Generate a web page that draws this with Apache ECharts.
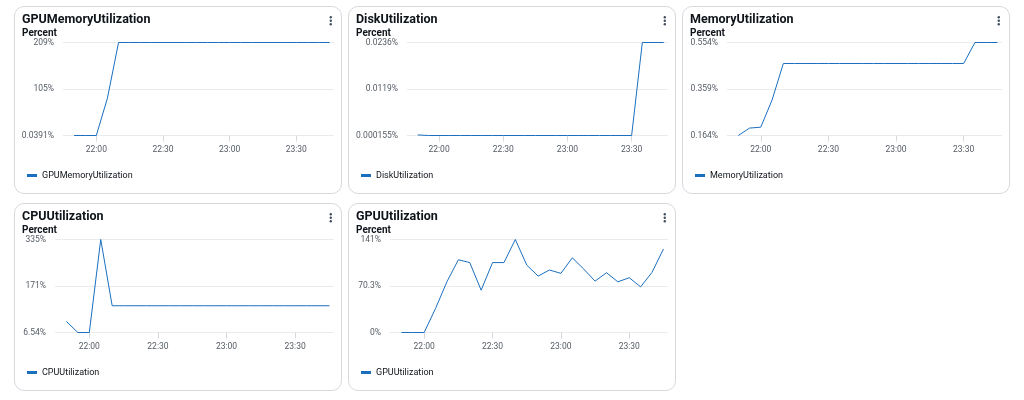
<!DOCTYPE html>
<html>
<head>
<meta charset="utf-8">
<script src="https://cdn.jsdelivr.net/npm/echarts@6.0.0/dist/echarts.min.js"></script>
<style>
  html, body { margin: 0; padding: 0; background: #fff; }
  body { width: 1024px; height: 400px; position: relative; overflow: hidden; }
  .card {
    position: absolute; width: 328px; height: 188px; box-sizing: border-box;
    border: 1px solid #d5d9de; border-radius: 10px; background: #fff;
  }
  .card .chart { position: absolute; left: -1px; top: -1px; width: 328px; height: 188px; }
</style>
</head>
<body>
<div class="card" style="left:14px;top:6px"><div class="chart" id="gpuMem"></div></div>
<div class="card" style="left:348px;top:6px"><div class="chart" id="disk"></div></div>
<div class="card" style="left:682px;top:6px"><div class="chart" id="mem"></div></div>
<div class="card" style="left:14px;top:203px"><div class="chart" id="cpu"></div></div>
<div class="card" style="left:348px;top:203px"><div class="chart" id="gpu"></div></div>
<script>
// 5 minute samples, 21:50 -> 23:45
const times = ['21:50', '21:55', '22:00', '22:05', '22:10', '22:15', '22:20', '22:25',
  '22:30', '22:35', '22:40', '22:45', '22:50', '22:55', '23:00', '23:05',
  '23:10', '23:15', '23:20', '23:25', '23:30', '23:35', '23:40', '23:45'];
const xTickLabels = ['22:00', '22:30', '23:00', '23:30'];
const xRange = ['21:45', '23:47'];

const gpuMemoryUtilization = [0.0391, 0.0391, 0.0391, 84, 209, 209, 209, 209,
  209, 209, 209, 209, 209, 209, 209, 209,
  209, 209, 209, 209, 209, 209, 209, 209];
const diskUtilization = [0.0003, 0.000155, 0.000155, 0.000155, 0.000155, 0.000155, 0.000155, 0.000155,
  0.000155, 0.000155, 0.000155, 0.000155, 0.000155, 0.000155, 0.000155, 0.000155,
  0.000155, 0.000155, 0.000155, 0.000155, 0.000155, 0.0236, 0.0236, 0.0236];
const memoryUtilization = [0.164, 0.195, 0.199, 0.313, 0.466, 0.466, 0.466, 0.466,
  0.466, 0.466, 0.466, 0.466, 0.466, 0.466, 0.466, 0.466,
  0.466, 0.466, 0.466, 0.466, 0.466, 0.554, 0.554, 0.554];
const cpuUtilization = [45.5, 6.54, 6.54, 335, 101, 101, 101, 101,
  101, 101, 101, 101, 101, 101, 101, 101,
  101, 101, 101, 101, 101, 101, 101, 101];
const gpuUtilization = [0, 0, 0, 36.5, 76.8, 110, 105.7, 63.9,
  105.7, 105.7, 140.6, 102, 85.3, 94.5, 89.4, 112.9,
  96, 77.7, 90.4, 76.6, 82.8, 69, 91, 126.2];

const FONT = 'Roboto, "Open Sans", sans-serif';
const LINE_COLOR = '#1a6fbf';

// x axis is a plain value axis in minutes after midnight
const toMin = (hhmm) => +hhmm.slice(0, 2) * 60 + +hhmm.slice(3);
const pad = (n) => (n < 10 ? '0' : '') + n;
const fmtTime = (m) => pad(Math.floor(m / 60)) + ':' + pad(Math.round(m % 60));
const fmtPercent = (v) => Number(v.toPrecision(3)) + '%';

function panelOption(name, values, gridLeft) {
  const lo = Math.min(...values);
  const hi = Math.max(...values);
  const yTicks = [lo, (lo + hi) / 2, hi];
  const xTicks = xTickLabels.map(toMin);
  return {
    animation: false,
    textStyle: { fontFamily: FONT },
    title: [
      { text: name, left: 8, top: 7, padding: 0,
        textStyle: { fontFamily: FONT, fontSize: 12.5, fontWeight: 'bold', color: '#0f141a' } },
      { text: 'Percent', left: 8, top: 22.5, padding: 0,
        textStyle: { fontFamily: FONT, fontSize: 10, fontWeight: 'bold', color: '#0f141a' } }
    ],
    graphic: [{
      type: 'group', right: 10, top: 10,
      children: [0, 3.5, 7].map((y) => ({
        type: 'circle', shape: { cx: 1.2, cy: y + 1.2, r: 1.2 }, style: { fill: '#414d5c' }
      }))
    }],
    legend: {
      left: 13, top: 165, padding: 0,
      icon: 'rect', itemWidth: 10, itemHeight: 3,
      textStyle: { fontFamily: FONT, fontSize: 9, color: '#0f141a' },
      data: [name]
    },
    grid: { left: gridLeft, right: 8, top: 36.5, bottom: 58.5 },
    xAxis: {
      type: 'value',
      min: toMin(xRange[0]),
      max: toMin(xRange[1]),
      axisLine: { show: false },
      splitLine: { show: false },
      axisTick: { show: true, length: 6, lineStyle: { color: '#d5d9de' }, customValues: xTicks },
      axisLabel: {
        customValues: xTicks, margin: 10,
        fontFamily: FONT, fontSize: 8.5, color: '#545b64',
        formatter: fmtTime
      }
    },
    yAxis: {
      type: 'value',
      min: lo,
      max: hi,
      axisLine: { show: false },
      axisTick: { show: false, customValues: yTicks },
      splitLine: { show: true, lineStyle: { color: '#e9ebed', width: 1 } },
      axisLabel: {
        customValues: yTicks, margin: 9,
        fontFamily: FONT, fontSize: 8.5, color: '#545b64',
        formatter: fmtPercent
      }
    },
    series: [{
      name: name,
      type: 'line',
      showSymbol: false,
      color: LINE_COLOR,
      lineStyle: { width: 1, color: LINE_COLOR },
      data: times.map((t, i) => [toMin(t), values[i]])
    }]
  };
}

const panels = [
  ['gpuMem', 'GPUMemoryUtilization', gpuMemoryUtilization, 49],
  ['disk', 'DiskUtilization', diskUtilization, 59],
  ['mem', 'MemoryUtilization', memoryUtilization, 45],
  ['cpu', 'CPUUtilization', cpuUtilization, 41],
  ['gpu', 'GPUUtilization', gpuUtilization, 42]
];

panels.forEach(([id, name, values, left]) => {
  const chart = echarts.init(document.getElementById(id), null, { renderer: 'canvas' });
  chart.setOption(panelOption(name, values, left));
});
</script>
</body>
</html>
